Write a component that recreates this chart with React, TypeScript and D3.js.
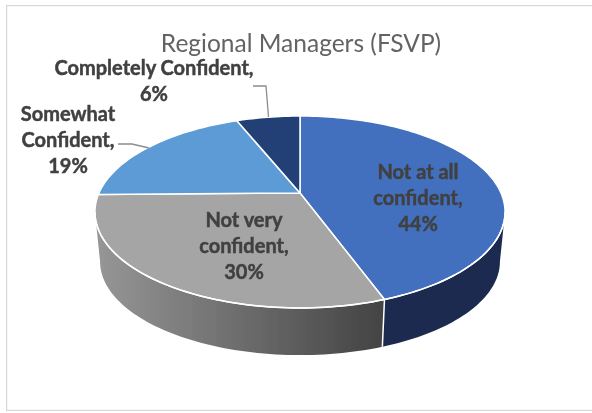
import React from 'react';
import * as d3 from 'd3';

const categories = ['Not at all confident', 'Not very confident', 'Somewhat Confident', 'Completely Confident'];
const percents = [44, 30, 19, 6];
const topColors = ['#4270bf', '#a5a5a5', '#5b9bd5', '#234174'];
const labelLines = [
  ['Not at all', 'confident,', '44%'],
  ['Not very', 'confident,', '30%'],
  ['Somewhat', 'Confident,', '19%'],
  ['Completely Confident,', '6%'],
];
const labelAnchors: [number, number][] = [[418, 178.5], [244, 227], [68, 120.5], [154, 74.5]];

const W = 592;
const H = 413;
const cx = 300;
const cy = 193;
const radX = 201;
const radY = 92.2;
const persp = 0.198;
const depth = 50;
const shrink = 0.975;
const silhouette = Math.acos(-persp);

// flat circle -> tilted view, near side drawn bigger
function project(angle: number, lower = false): [number, number] {
  const u = Math.sin(angle);
  const v = -Math.cos(angle);
  const d = 1 - persp * v;
  const x = (radX * u) / d;
  const y = (radY * v) / d;
  return lower ? [cx + x * shrink, cy + depth + y * shrink] : [cx + x, cy + y];
}

function sample(a0: number, a1: number) {
  const n = Math.max(2, Math.ceil(Math.abs(a1 - a0) * 40));
  return d3.range(n + 1).map(i => a0 + ((a1 - a0) * i) / n);
}

const line = d3.line();

function topPath(a0: number, a1: number) {
  return line([[cx, cy], ...sample(a0, a1).map(a => project(a))]) + 'Z';
}

function wallPath(a0: number, a1: number) {
  const top = sample(a0, a1).map(a => project(a));
  const bottom = sample(a1, a0).map(a => project(a, true));
  return line([...top, ...bottom]) + 'Z';
}

export default function App() {
  const arcs = d3.pie<number>().sort(null)(percents);
  const blueEnd = arcs[0].endAngle;
  const grayEnd = 2 * Math.PI - silhouette;
  const edge = sample(silhouette, grayEnd).map(a => project(a));

  return (
    <svg
      width={W}
      height={H}
      viewBox={`0 0 ${W} ${H}`}
      style={{ position: 'absolute', left: 0, top: 0, background: '#fff' }}
    >
      <defs>
        <linearGradient id="wallGray" gradientUnits="userSpaceOnUse" x1={97} x2={384} y1={0} y2={0}>
          <stop offset="0" stopColor="#969696" />
          <stop offset="1" stopColor="#434343" />
        </linearGradient>
        <filter id="soft" x="0" y="0" width="100%" height="100%">
          <feGaussianBlur stdDeviation="0.45" />
        </filter>
      </defs>
      <g filter="url(#soft)">
        <rect x={6.5} y={5.5} width={W + 20} height={405} fill="#fff" stroke="#d9d9d9" strokeWidth={1.5} />

        <text
          x={301}
          y={52}
          textAnchor="middle"
          fontFamily="Lato, sans-serif"
          fontSize={24.5}
          fill="#636363"
        >
          Regional Managers (FSVP)
        </text>

        <path d={wallPath(silhouette, blueEnd)} fill="#1a2c50" />
        <path d={wallPath(blueEnd, grayEnd)} fill="url(#wallGray)" />
        <path
          d={line([project(blueEnd), project(blueEnd, true)]) as string}
          stroke="#fff"
          strokeWidth={1.5}
          fill="none"
        />

        {arcs.map((d, i) => (
          <path
            key={categories[i]}
            d={topPath(d.startAngle, d.endAngle)}
            fill={topColors[i]}
            stroke="#fff"
            strokeWidth={1.5}
            strokeLinejoin="round"
          />
        ))}
        <path d={line(edge) as string} fill="none" stroke="#fff" strokeWidth={1.5} />

        <path d="M253,86H266L268.500,117" fill="none" stroke="#8c8c8c" strokeWidth={1.3} />
        <path d="M118,144H132L149,148" fill="none" stroke="#8c8c8c" strokeWidth={1.3} />

        {labelLines.map((lines, i) => (
          <text
            key={categories[i]}
            textAnchor="middle"
            fontFamily="Lato, sans-serif"
            fontWeight={700}
            fontSize={20}
            fill="#404040"
            stroke="#404040"
            strokeWidth={0.45}
          >
            {lines.map((t, j) => (
              <tspan key={t} x={labelAnchors[i][0]} y={labelAnchors[i][1] + j * 26}>
                {t}
              </tspan>
            ))}
          </text>
        ))}
      </g>
    </svg>
  );
}
